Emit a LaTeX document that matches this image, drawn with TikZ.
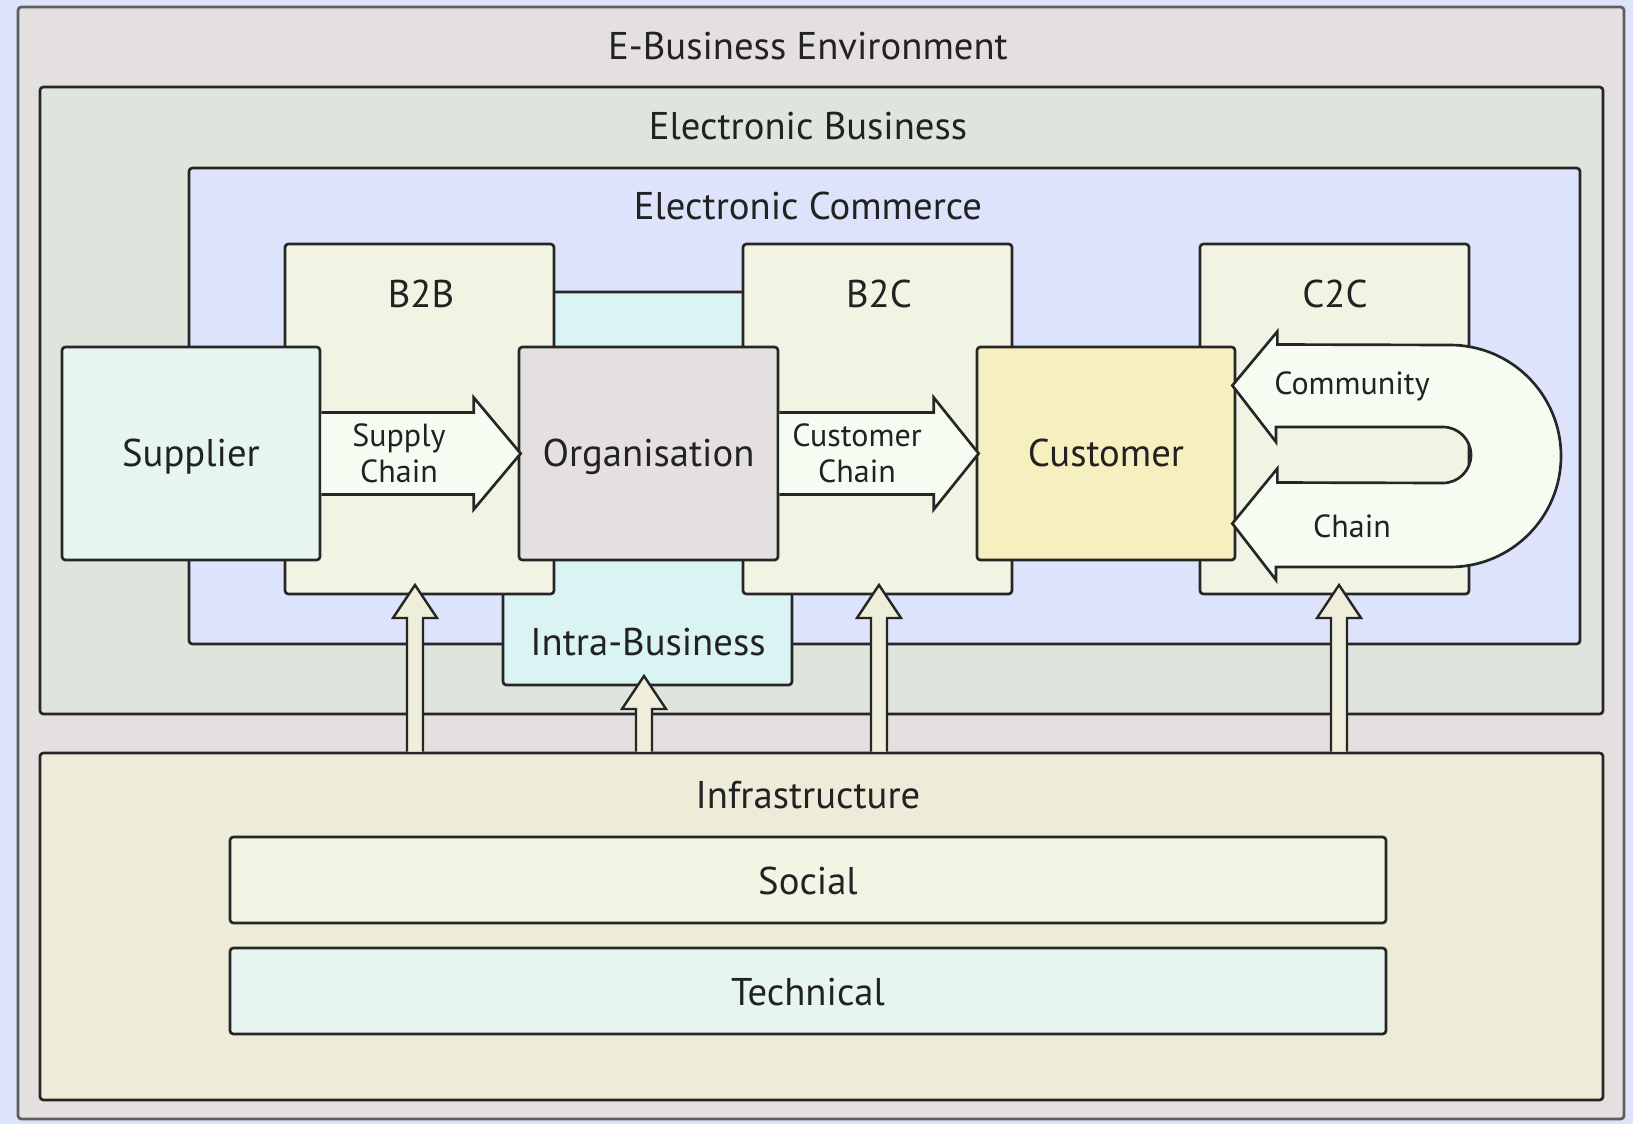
\documentclass[tikz,border=0pt]{standalone}
\usepackage{fontspec}
\setmainfont{PT Sans}
\usetikzlibrary{fit,calc}
\definecolor{bg}{HTML}{DCE3FB}
\definecolor{outerfill}{HTML}{E4E0DF}
\definecolor{ebfill}{HTML}{DFE5DC}
\definecolor{ecfill}{HTML}{DCE3FB}
\definecolor{catfill}{HTML}{F1F3E3}
\definecolor{intrafill}{HTML}{DAF3F3}
\definecolor{supfill}{HTML}{E6F4F2}
\definecolor{orgfill}{HTML}{E4E0DF}
\definecolor{custfill}{HTML}{F6EFC0}
\definecolor{arrfill}{HTML}{F5FCF2}
\definecolor{upfill}{HTML}{EEEEDB}
\definecolor{infrafill}{HTML}{EDECD8}
\definecolor{socfill}{HTML}{F2F5E4}
\definecolor{techfill}{HTML}{E6F4F2}
\definecolor{lc}{HTML}{262626}
\definecolor{outerlc}{HTML}{5E5E5E}
\definecolor{txt}{HTML}{222222}
\begin{document}
\begin{tikzpicture}[x=0.75pt,y=-0.75pt,
  box/.style={draw=lc, line width=2pt, rounded corners=2.5pt, inner sep=0pt},
  big/.style={font=\fontsize{29}{33}\selectfont, text=txt, inner sep=0pt, text height=21.2pt, text depth=0pt},
  small/.style={font=\fontsize{24}{27}\selectfont, text=txt, align=center, inner sep=0pt},
  blockarrow/.style={draw=lc, line width=2pt, fill=arrfill, line join=miter},
  uparrow/.style={draw=lc, line width=1.8pt, fill=upfill, line join=miter}]
\path[fill=bg] (0,0) rectangle (1633,1124);
\useasboundingbox (0,0) rectangle (1633,1124);
% containers
\node[box, draw=outerlc, fill=outerfill, fit={(18,7)(1624,1119)}] (env) {};
\node[box, fill=ebfill, fit={(40,87)(1603,714)}] (eb) {};
\node[box, fill=ecfill, fit={(189,168)(1580,644)}] (ec) {};
\node[box, fill=intrafill, fit={(503,292)(792,685)}] (intra) {};
\node[box, fill=catfill, fit={(285,244)(554,594)}] (b2b) {};
\node[box, fill=catfill, fit={(743,244)(1012,594)}] (b2c) {};
\node[box, fill=catfill, fit={(1200,244)(1469,594)}] (c2c) {};
\node[box, fill=infrafill, fit={(40,753)(1603,1100)}] (infra) {};
\node[box, fill=socfill, fit={(230,837)(1386,923)}] (social) {};
\node[box, fill=techfill, fit={(230,948)(1386,1034)}] (tech) {};
% actors
\node[box, fill=supfill, fit={(62,347)(320,560)}] (sup) {};
\node[box, fill=orgfill, fit={(519,347)(778,560)}] (org) {};
\node[box, fill=custfill, fit={(977,347)(1235,560)}] (cust) {};
% labels
\node[big] (envl) at (808,45) {E-Business Environment};
\node[big] (ebl) at (808,125) {Electronic Business};
\node[big] (ecl) at (808,205) {Electronic Commerce};
\node[big] (b2bl) at (421,293) {B2B};
\node[big] (b2cl) at (879,293) {B2C};
\node[big] (c2cl) at (1335,293) {C2C};
\node[big] (intral) at (648,641) {Intra-Business};
\node[big] (infral) at (808,794) {Infrastructure};
\node[big] at (social.center) (socl) {Social};
\node[big] at (tech.center) (techl) {Technical};
\node[big] at ($(sup.center)+(0,-1)$) (supl) {Supplier};
\node[big] at ($(org.center)+(0,-1)$) (orgl) {Organisation};
\node[big] at ($(cust.center)+(0,-1)$) (custl) {Customer};
% horizontal block arrows
\draw[blockarrow] ($(sup.east)+(0,-41)$) -- ($(org.west)+(-44,-41)$) -- ($(org.west)+(-44,-56)$)
  -- ($(org.west)+(3,0)$) -- ($(org.west)+(-44,56)$) -- ($(org.west)+(-44,41)$) -- ($(sup.east)+(0,41)$);
\draw[blockarrow] ($(org.east)+(0,-41)$) -- ($(cust.west)+(-42,-41)$) -- ($(cust.west)+(-42,-56)$)
  -- ($(cust.west)+(3,0)$) -- ($(cust.west)+(-42,56)$) -- ($(cust.west)+(-42,41)$) -- ($(org.east)+(0,41)$);
\node[small] (scl) at (399,453) {Supply\\Chain};
\node[small] (ccl) at (857,453) {Customer\\Chain};
% community chain U-arrow
\coordinate (ta) at ($(cust.east)+(-4,-68)$);
\coordinate (tb) at ($(cust.east)+(-4,70)$);
\draw[blockarrow] (ta) -- ++(45,-54) -- ++(0,13) -- (1450,345)
  arc[start angle=-90, end angle=90, radius=111]
  -- (1276,567) -- ++(0,13) -- (tb) -- ++(45,-55) -- ++(0,14) -- (1443,483)
  arc[start angle=90, end angle=-90, radius=28]
  -- (1276,427) -- ++(0,15) -- cycle;
\node[small] (coml) at (1352,386) {Community};
\node[small] (chl) at (1352,526) {Chain};
% up arrows from infrastructure
\coordinate (t1) at (415,585);
\coordinate (t2) at (644,676);
\coordinate (t3) at (879,585);
\coordinate (t4) at (1339,585);
\foreach \t in {t1,t2,t3,t4}{
  \draw[uparrow] ($(\t|-infra.north)+(-8,0)$) -- ($(\t)+(-8,33)$) -- ($(\t)+(-22,33)$)
    -- (\t) -- ($(\t)+(22,33)$) -- ($(\t)+(8,33)$) -- ($(\t|-infra.north)+(8,0)$);
}
\end{tikzpicture}
\end{document}
